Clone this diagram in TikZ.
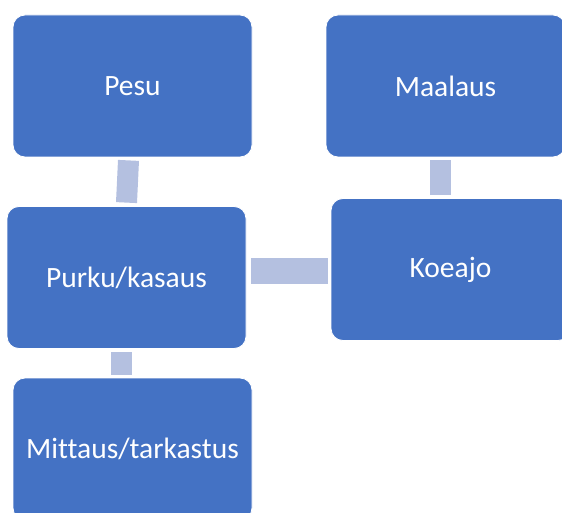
\documentclass[tikz,border=0pt]{standalone}
\usepackage{fontspec}
\setmainfont[Ligatures=NoCommon]{Carlito}
\usetikzlibrary{positioning}

\definecolor{boxblue}{HTML}{4472C4}
\definecolor{linkblue}{HTML}{B4C0E0}

\begin{document}
\begin{tikzpicture}[
      x=1pt, y=-1pt,
      stage/.style={rectangle, rounded corners=12pt, fill=boxblue, draw=white, line width=0.8pt,
        minimum width=239pt, minimum height=142pt, inner sep=0pt,
        text=white, font=\fontsize{29.5}{35}\selectfont},
      link/.style={draw=linkblue, line width=21pt},
    ]
    \useasboundingbox (0,0) rectangle (562,513);
    \clip (0,0) rectangle (562,513);
    \node[stage] (pesu) at (132.5,86) {Pesu};
    \node[stage] (maalaus) at (445.5,86) {Maalaus};
    \node[stage] (purku) at (126.5,277.5) {Purku/kasaus};
    \node[stage] (koeajo) at (450.5,269.5) {Koeajo};
    \node[stage] (mittaus) at (132.5,449) {Mittaus/tarkastus};
    \draw[link] ([xshift=-4pt,yshift=-3pt]pesu.south) -- ([xshift=0pt,yshift=3.5pt]purku.north);
    \draw[link] ([xshift=-5.5pt,yshift=-3pt]maalaus.south) -- ([xshift=-10.5pt,yshift=3pt]koeajo.north);
    \draw[link, line width=26pt] ([xshift=5pt]purku.east |- 0,271) -- ([xshift=-3pt]koeajo.west |- 0,271);
    \draw[link] ([xshift=-5.5pt,yshift=-3.5pt]purku.south) -- ([xshift=-11.5pt,yshift=3pt]mittaus.north);
\end{tikzpicture}
\end{document}
